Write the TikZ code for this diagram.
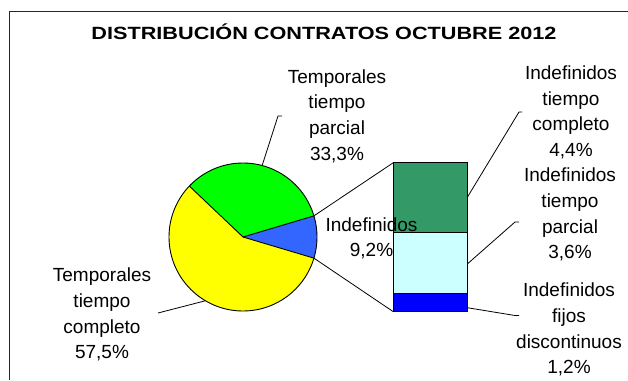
\documentclass[tikz,border=0pt]{standalone}
\usepackage{fontspec}
\setmainfont{Liberation Sans}
\usepackage{graphicx}
\usetikzlibrary{calc}
\definecolor{pgreen}{HTML}{00FF00}
\definecolor{pyellow}{HTML}{FFFF00}
\definecolor{pblue}{HTML}{3366FF}
\definecolor{bdark}{HTML}{339966}
\definecolor{bcyan}{HTML}{CCFFFF}
\definecolor{bblue}{HTML}{0000FF}
\begin{document}
\begin{tikzpicture}[x=1pt,y=-1pt,
  lbl/.style={font=\fontsize{19}{25.7}\selectfont, align=center, inner sep=0pt, anchor=base},
  leader/.style={draw=black, line width=0.8pt},
  slice/.style={draw=black, line width=0.9pt, line join=round},
  barbox/.style={draw=black, line width=0.9pt}]
\useasboundingbox (0,0) rectangle (628,380);
% frame
\draw[line width=1pt, draw=black!85] (9,380) -- (9,11) -- (628,11);
% title
\node[font=\bfseries\fontsize{17.7}{20}\selectfont, anchor=base, inner sep=0pt] (title) at (324,39.3)
  {\scalebox{1.224}[1]{DISTRIBUCIÓN CONTRATOS OCTUBRE 2012}};
% pie
\coordinate (c) at (243,237);
\fill[pblue] (c) -- ++(-16.6:74) arc[start angle=-16.6, end angle=16.6, radius=74] -- cycle;
\fill[pgreen] (c) -- ++(-16.6:74) arc[start angle=-16.6, end angle=-136.5, radius=74] -- cycle;
\fill[pyellow] (c) -- ++(-136.5:74) arc[start angle=-136.5, end angle=-343.4, radius=74] -- cycle;
\draw[slice] (c) circle[radius=74];
\draw[slice] (c) -- ++(-16.6:74);
\draw[slice] (c) -- ++(16.6:74);
\draw[slice] (c) -- ++(-136.5:74);
\coordinate (pu) at ($(c)+(-16.6:74)$);
\coordinate (pl) at ($(c)+(16.6:74)$);
% bar
\fill[bdark] (393.3,162.7) rectangle (467.3,232.7);
\fill[bcyan] (393.3,232.7) rectangle (467.3,293.3);
\fill[bblue] (393.3,293.3) rectangle (467.3,311.7);
\draw[barbox] (393.3,162.7) rectangle (467.3,311.7);
\draw[barbox] (393.3,232.7) -- (467.3,232.7);
\draw[barbox] (393.3,293.3) -- (467.3,293.3);
\coordinate (btl) at (393.3,162.7);
\coordinate (bbl) at (393.3,311.7);
% pie-bar connectors
\draw[leader] (pu) -- (btl);
\draw[leader] (pl) -- (bbl);
% labels (anchor = baseline of last line)
\node[lbl] (tp) at (337,160.1) {Temporales\\tiempo\\parcial\\33,3\%};
\node[lbl] (tc) at (102,358.8) {Temporales\\tiempo\\completo\\57,5\%};
\node[lbl, font=\fontsize{19}{25}\selectfont] (ind) at (371.5,256.7) {Indefinidos\\9,2\%};
\node[lbl] (itc) at (571,156.6) {Indefinidos\\tiempo\\completo\\4,4\%};
\node[lbl] (itp) at (570,258.8) {Indefinidos\\tiempo\\parcial\\3,6\%};
\node[lbl] (ifd) at (569,373.8) {Indefinidos\\fijos\\discontinuos\\1,2\%};
% leader lines
\coordinate (tpa) at ($(c)+(-75:74)$);
\coordinate (tpb) at (278,116);
\coordinate (tpc) at (282,116);
\draw[leader] (tpa) -- (tpb) -- (tpc);
\coordinate (tca) at ($(c)+(120.5:74)$);
\coordinate (tcb) at (158,313);
\draw[leader] (tca) -- (tcb);
\coordinate (r1a) at (467.3,197.3);
\coordinate (r1b) at (519,112);
\coordinate (r1c) at (522,112);
\draw[leader] (r1a) -- (r1b) -- (r1c);
\coordinate (r2a) at (467.3,264);
\coordinate (r2b) at (515,222);
\coordinate (r2c) at (519,222);
\draw[leader] (r2a) -- (r2b) -- (r2c);
\coordinate (r3a) at (467.3,307.7);
\coordinate (r3b) at (515,315.5);
\coordinate (r3c) at (519,315.5);
\draw[leader] (r3a) -- (r3b) -- (r3c);
\end{tikzpicture}
\end{document}
